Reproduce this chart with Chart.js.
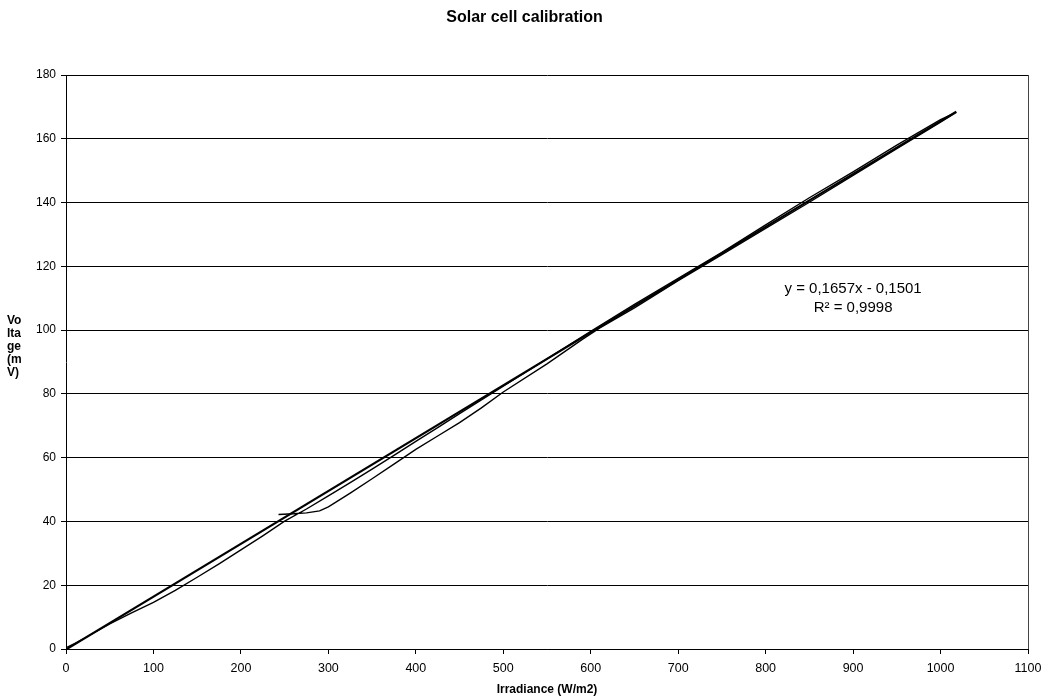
<!DOCTYPE html>
<html><head><meta charset="utf-8">
<script src="https://cdn.jsdelivr.net/npm/chart.js@4.4.1/dist/chart.umd.min.js"></script>
<style>html,body{margin:0;padding:0;background:#fff}#wrap{width:1049px;height:698px;position:relative}</style>
</head><body><div id="wrap"><canvas id="c" width="1049" height="698"></canvas></div>
<script>
const FONT = 'Arial, "Liberation Sans", sans-serif';
const chartTitle = 'Solar cell calibration';
const xAxisTitle = 'Irradiance (W/m2)';
const yAxisTitleLines = ['Vo', 'lta', 'ge', '(m', 'V)'];
const xTickValues = [0, 100, 200, 300, 400, 500, 600, 700, 800, 900, 1000, 1100];
const yTickValues = [0, 20, 40, 60, 80, 100, 120, 140, 160, 180];

// measured path: rising branch then descending branch
const measuredX = [0, 12, 25, 50, 75, 100, 125, 150, 175, 200, 225, 250, 275, 300, 325, 350, 375, 400, 425, 450, 475, 500, 550, 600, 650, 700, 750, 800, 850, 900, 950, 1000, 1018,
  1000, 950, 900, 850, 800, 750, 700, 650, 610, 590, 550, 500, 475, 450, 425, 400, 375, 350, 325, 310, 300, 290, 275, 260, 243];
const measuredY = [0.4, 2.0, 4.0, 7.9, 11.3, 14.6, 18.4, 22.5, 26.7, 31.1, 35.5, 40.1, 43.9, 48.0, 52.2, 56.4, 60.7, 65.1, 69.4, 73.8, 78.1, 82.4, 91.0, 99.6, 108.1, 116.2, 124.4, 133.0, 141.5, 149.6, 158.0, 166.0, 168.3,
  165.2, 156.9, 148.5, 140.1, 131.9, 123.7, 115.5, 107.0, 100.6, 97.0, 89.4, 80.6, 75.6, 71.0, 66.8, 62.6, 58.0, 53.4, 48.9, 46.3, 44.6, 43.3, 42.7, 42.4, 42.2];

// linear trendline end points
const trendX = [0, 1018];
const trendY = [-0.15, 168.53];
const trendEquation = 'y = 0,1657x - 0,1501';
const trendR2 = 'R\u00B2 = 0,9998';
const labelAnchorX = 900;
const labelAnchorY = [112.8, 107.0];

const toPts = (xs, ys) => xs.map((x, i) => ({x: x, y: ys[i]}));

const extras = {
  id: 'extras',
  beforeDatasetsDraw(chart) {
    const {ctx, chartArea: a} = chart;
    ctx.save();
    ctx.strokeStyle = '#444';
    ctx.lineWidth = 1;
    ctx.beginPath();
    ctx.moveTo(Math.round(a.right) + 0.5, a.top);
    ctx.lineTo(Math.round(a.right) + 0.5, a.bottom);
    ctx.stroke();
    ctx.restore();
  },
  afterDraw(chart) {
    const {ctx} = chart;
    const xs = chart.scales.x, ys = chart.scales.y;
    ctx.save();
    ctx.fillStyle = '#000';
    ctx.font = 'bold 12px ' + FONT;
    ctx.textAlign = 'left';
    ctx.textBaseline = 'middle';
    yAxisTitleLines.forEach((t, i) => ctx.fillText(t, 7, 321 + i * 13));
    ctx.font = '15px ' + FONT;
    ctx.textAlign = 'center';
    const px = xs.getPixelForValue(labelAnchorX);
    ctx.fillText(trendEquation, px, ys.getPixelForValue(labelAnchorY[0]));
    ctx.fillText(trendR2, px, ys.getPixelForValue(labelAnchorY[1]));
    ctx.restore();
  }
};

new Chart(document.getElementById('c'), {
  type: 'scatter',
  data: {
    datasets: [
      {label: 'Trend', data: toPts(trendX, trendY), showLine: true, borderColor: '#000', borderWidth: 2.2, pointRadius: 0, tension: 0},
      {label: 'Measured', data: toPts(measuredX, measuredY), showLine: true, borderColor: '#000', borderWidth: 1.4, pointRadius: 0, tension: 0}
    ]
  },
  options: {
    responsive: false,
    animation: false,
    devicePixelRatio: 1,
    layout: {padding: {left: 0, right: 0, top: 0, bottom: 0}},
    plugins: {
      legend: {display: false},
      tooltip: {enabled: false},
      title: {display: true, text: chartTitle, color: '#000', font: {family: FONT, size: 16, weight: 'bold'}, padding: {top: 8.4, bottom: 47.4}}
    },
    scales: {
      x: {
        type: 'linear', min: 0, max: 1100,
        afterBuildTicks: s => { s.ticks = xTickValues.map(v => ({value: v})); },
        afterFit: s => { s.height = 49; },
        grid: {drawOnChartArea: false, color: '#000', tickLength: 5, tickColor: '#000'},
        border: {color: '#000', width: 1},
        ticks: {color: '#000', font: {family: FONT, size: 12.5}, padding: 7, maxRotation: 0, autoSkip: false, callback: v => String(v)},
        title: {display: true, text: xAxisTitle, color: '#000', font: {family: FONT, size: 12, weight: 'bold'}, padding: {top: 0, bottom: 1}}
      },
      y: {
        type: 'linear', min: 0, max: 180,
        afterBuildTicks: s => { s.ticks = yTickValues.map(v => ({value: v})); },
        afterFit: s => { s.width = 66; },
        grid: {color: '#000', lineWidth: 1, tickLength: 5, tickColor: '#000'},
        border: {color: '#000', width: 1},
        ticks: {color: '#000', font: {family: FONT, size: 12}, padding: 5, autoSkip: false, callback: v => String(v)}
      },
      yRightSpacer: {
        type: 'linear', position: 'right', display: true,
        afterFit: s => { s.width = 21; },
        grid: {display: false, drawTicks: false},
        border: {display: false},
        ticks: {display: false}
      }
    }
  },
  plugins: [extras]
});
</script></body></html>
